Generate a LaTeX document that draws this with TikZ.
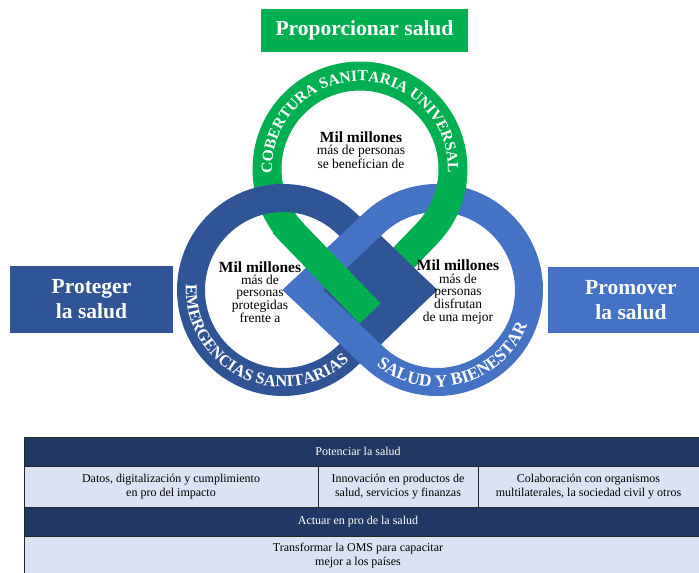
\documentclass[tikz,border=0pt]{standalone}
\usepackage{fontspec}
\setmainfont{Liberation Serif}
\usetikzlibrary{calc,decorations.text}

\definecolor{verde}{HTML}{00B050}
\definecolor{azulosc}{HTML}{2F5597}
\definecolor{azulcla}{HTML}{4472C4}
\definecolor{marino}{HTML}{1F3864}
\definecolor{celeste}{HTML}{DAE3F3}

\tikzset{
  lazo/.style={line width=28pt, line join=miter, miter limit=10},
  caja/.style={inner sep=0pt, text=white, align=center, font=\bfseries\fontsize{21.5}{25}\selectfont},
  centro/.style={inner sep=0pt, align=center, font=\fontsize{13.5}{12.3}\selectfont},
  celda/.style={draw=black!85, line width=0.9pt},
  rotulo/.style={inner sep=0pt, align=center, font=\fontsize{12}{14}\selectfont},
}
\newcommand{\milmill}{{\bfseries\fontsize{15.5}{12.3}\selectfont Mil millones}}

\begin{document}
\begin{tikzpicture}[x=1pt,y=1pt]
  \useasboundingbox (0,0) rectangle (699,-573);
  \fill[white] (0,0) rectangle (699,-573);

  % centros y puntas de los tres lazos
  \coordinate (cg) at (360,-169);
  \coordinate (cl) at (283,-290);
  \coordinate (cr) at (437,-290);
  \coordinate (pg) at (360,-303);
  \coordinate (pl) at (417,-290);
  \coordinate (pr) at (303,-290);

  % lazo claro (salud y bienestar)
  \draw[lazo, azulcla] (pr) -- ($(cr)+(226:92pt)$) arc[start angle=226, end angle=494, radius=92pt] -- cycle;

  % lazo verde: brazo derecho y arco
  \draw[lazo, verde, line width=29pt] (pg) -- ($(cg)+(-44:93pt)$) arc[start angle=-44, end angle=224, radius=93pt];
  \path[decorate, decoration={text along path, text align=center,
      text={|\color{white}\bfseries\fontsize{15.5}{15.5}\selectfont|COBERTURA SANITARIA UNIVERSAL}}]
    ($(cg)+(192:88pt)$) arc[start angle=192, end angle=-12, radius=88pt];

  % lazo oscuro (emergencias) con su cuadro central
  \fill[azulosc] (pr) -- (370,-225) -- (437,-290) -- (370,-355) -- cycle;
  \draw[lazo, azulosc] (pl) -- ($(cl)+(46:92pt)$) arc[start angle=46, end angle=314, radius=92pt] -- cycle;
  \path[decorate, decoration={text along path, text align=center,
      text={|\color{white}\bfseries\fontsize{16.5}{16.5}\selectfont|EMERGENCIAS SANITARIAS}}]
    ($(cl)+(155:97pt)$) arc[start angle=155, end angle=335, radius=97pt];

  % brazos del lazo claro por encima del oscuro
  \draw[lazo, azulcla] ($(cr)+(134:92pt)$) -- (pr) -- ($(cr)+(226:92pt)$);
  \path[decorate, decoration={text along path, text align=center,
      text={|\color{white}\bfseries\fontsize{17.5}{17.5}\selectfont|SALUD Y BIENESTAR}}]
    ($(cr)+(195:97pt)$) arc[start angle=195, end angle=375, radius=97pt];

  % brazo izquierdo verde, encima de todo
  \draw[verde, line width=29pt, line cap=rect] ($(cg)+(224:93pt)$) -- (pg);

  % textos interiores
  \node[centro] (txtg) at (361,-150) {\milmill\\más de personas\\se benefician de};
  \node[centro] (txtl) at (260,-292) {\milmill\\más de\\personas\\protegidas\\frente a};
  \node[centro] (txtr) at (458,-292) {\milmill\\más de\\personas\\disfrutan\\de una mejor};

  % cajas de los tres objetivos
  \fill[verde] (261,-9) rectangle (468,-52);
  \node[caja] (proporcionar) at (364.5,-30.5) {Proporcionar salud};
  \fill[azulosc] (10,-266) rectangle (173,-333);
  \node[caja] (proteger) at (91.5,-299.5) {Proteger\\la salud};
  \fill[azulcla] (548,-267) rectangle (699,-333);
  \node[caja] (promover) at (631,-300) {Promover\\la salud};

  % tabla inferior
  \draw[celda, fill=marino] (24,-437) rectangle (699,-466);
  \draw[celda, fill=celeste] (24,-466) rectangle (318,-507);
  \draw[celda, fill=celeste] (318,-466) rectangle (478,-507);
  \draw[celda, fill=celeste] (478,-466) rectangle (699,-507);
  \draw[celda, fill=marino] (24,-507) rectangle (699,-536);
  \draw[celda, fill=celeste] (24,-536) rectangle (699,-573);

  \node[rotulo, text=white] (potenciar) at (358,-451.5) {Potenciar la salud};
  \node[rotulo] (datos) at (171,-486.5) {Datos, digitalización y cumplimiento\\en pro del impacto};
  \node[rotulo] (innovacion) at (398,-486.5) {Innovación en productos de\\salud, servicios y finanzas};
  \node[rotulo] (colaboracion) at (588.5,-486.5) {Colaboración con organismos\\multilaterales, la sociedad civil y otros};
  \node[rotulo, text=white] (actuar) at (358,-521.5) {Actuar en pro de la salud};
  \node[rotulo] (transformar) at (358,-556) {Transformar la OMS para capacitar\\mejor a los países};
\end{tikzpicture}
\end{document}
